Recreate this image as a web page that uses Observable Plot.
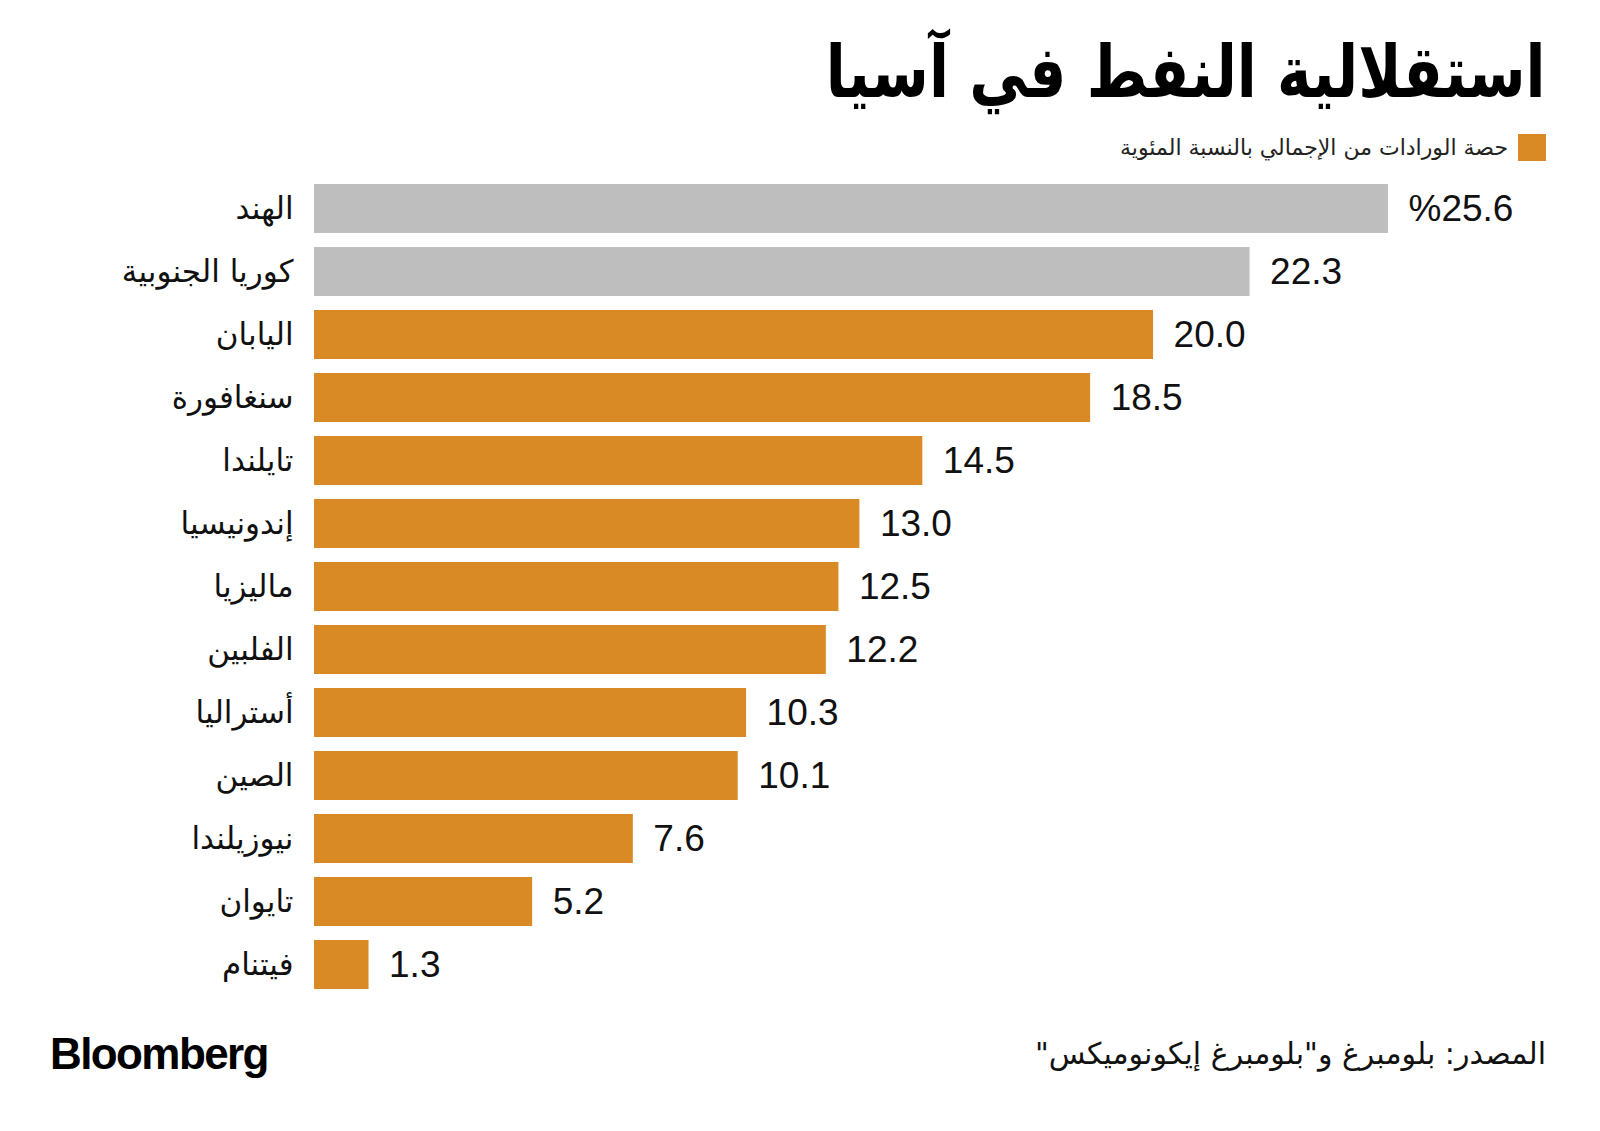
<!DOCTYPE html>
<html lang="ar">
<head>
<meta charset="utf-8">
<script src="https://cdn.jsdelivr.net/npm/d3@7"></script>
<script src="https://cdn.jsdelivr.net/npm/@observablehq/plot@0.6"></script>
<style>
  html, body { margin: 0; padding: 0; background: #fff; }
  body { width: 1600px; height: 1131px; position: relative; overflow: hidden; font-family: "DejaVu Sans", sans-serif; }
  #title { position: absolute; right: 54px; top: 30px; font-size: 72px; font-weight: 900; color: #000; direction: rtl; white-space: nowrap; letter-spacing: -1px; transform: scaleX(0.81); transform-origin: right center; }
  #legend { position: absolute; right: 54px; top: 134px; display: flex; flex-direction: row; align-items: center; gap: 10px; direction: rtl; }
  #legend .sw { width: 28px; height: 27px; background: #DA8A24; }
  #legend .lt { font-size: 22px; color: #222; white-space: nowrap; }
  #chart { position: absolute; left: 0; top: 150px; }
  #logo { position: absolute; left: 50px; top: 1029px; font-family: "Liberation Sans", Arial, sans-serif; font-weight: 700; font-size: 44px; letter-spacing: -1.6px; color: #000; }
  #source { position: absolute; right: 54px; top: 1036px; font-size: 30px; color: #111; direction: rtl; white-space: nowrap; }
</style>
</head>
<body>
<div id="title">استقلالية النفط في آسيا</div>
<div id="legend"><div class="sw"></div><div class="lt">حصة الورادات من الإجمالي بالنسبة المئوية</div></div>
<div id="chart"></div>
<div id="logo">Bloomberg</div>
<div id="source">المصدر: بلومبرغ و"بلومبرغ إيكونوميكس"</div>
<script>
const countries = ["الهند","كوريا الجنوبية","اليابان","سنغافورة","تايلندا","إندونيسيا","ماليزيا","الفلبين","أستراليا","الصين","نيوزيلندا","تايوان","فيتنام"];
const shares = [25.6, 22.3, 20.0, 18.5, 14.5, 13.0, 12.5, 12.2, 10.3, 10.1, 7.6, 5.2, 1.3];
const highlighted = ["الهند","كوريا الجنوبية"];

const data = countries.map((c, i) => ({
  country: c,
  value: shares[i],
  label: (i === 0 ? "%" : "") + shares[i].toFixed(1),
  gray: highlighted.includes(c)
}));

const chart = Plot.plot({
  width: 1600,
  height: 860,
  marginLeft: 314,
  marginRight: 212,
  marginTop: 17,
  marginBottom: 4,
  x: { domain: [0, 25.6], axis: null },
  y: { domain: countries, axis: null, padding: 0.22 },
  style: { background: "transparent", overflow: "visible" },
  marks: [
    Plot.barX(data, {
      y: "country",
      x: "value",
      fill: d => d.gray ? "#BEBEBE" : "#DA8A24"
    }),
    Plot.text(data, {
      y: "country",
      x: 0,
      text: "country",
      textAnchor: "end",
      dx: -21,
      fontSize: 31,
      fill: "#111",
      fontFamily: "DejaVu Sans, sans-serif"
    }),
    Plot.text(data, {
      y: "country",
      x: "value",
      text: "label",
      textAnchor: "start",
      dx: 20,
      fontSize: 37,
      fill: "#111",
      fontFamily: "Liberation Sans, Arial, sans-serif",
      letterSpacing: -1.5
    })
  ]
});
document.getElementById("chart").appendChild(chart);
</script>
</body>
</html>
